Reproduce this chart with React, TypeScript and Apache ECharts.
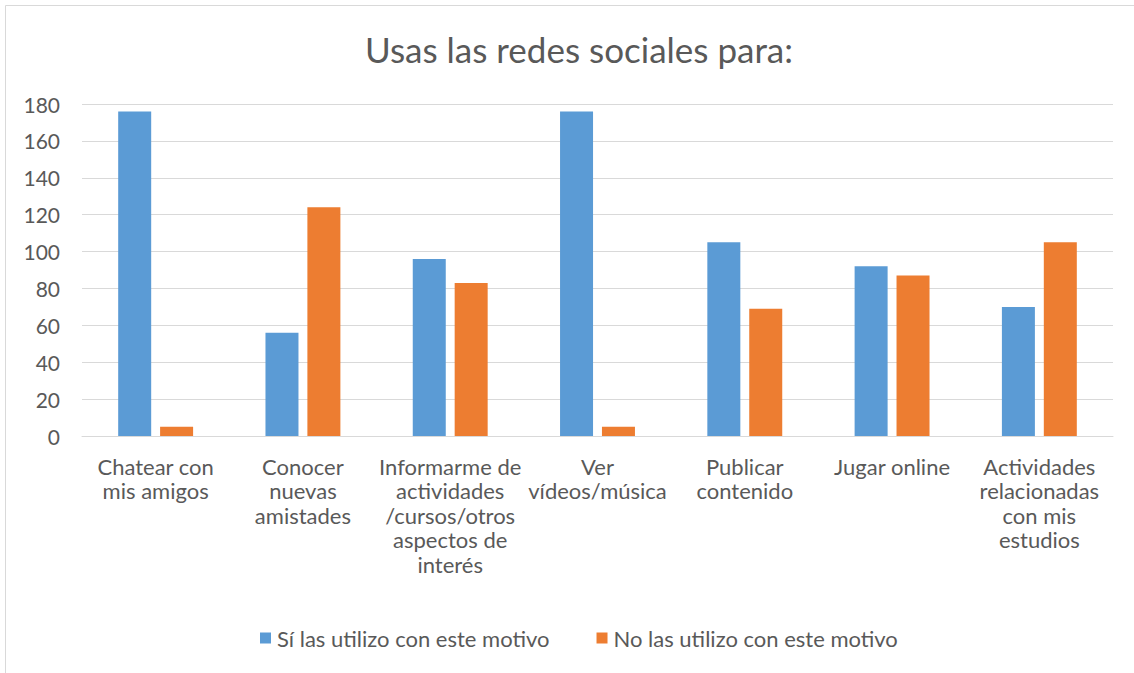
import React, { useEffect, useRef } from "react";
import * as echarts from "echarts";

const titleText = "Usas las redes sociales para:";
const categories = [
  "Chatear con\nmis amigos",
  "Conocer\nnuevas\namistades",
  "Informarme de\nactividades\n/cursos/otros\naspectos de\ninterés",
  "Ver\nvídeos/música",
  "Publicar\ncontenido",
  "Jugar online",
  "Actividades\nrelacionadas\ncon mis\nestudios",
];
const seriesSiName = "Sí las utilizo con este motivo";
const seriesNoName = "No las utilizo con este motivo";
const siValues = [176, 56, 96, 176, 105, 92, 70];
const noValues = [5, 124, 83, 5, 69, 87, 105];
const yTicks = { min: 0, max: 180, interval: 20 };

const FONT = "Lato, 'Noto Sans', sans-serif";
const TEXT = "#595959";

export default function App() {
  const ref = useRef<HTMLDivElement>(null);
  useEffect(() => {
    document.body.style.margin = "0";
    const chart = echarts.init(ref.current!, null, { renderer: "svg" });
    chart.setOption({
      animation: false,
      backgroundColor: "#ffffff",
      textStyle: { fontFamily: FONT, color: TEXT },
      graphic: [
        {
          type: "rect",
          silent: true,
          shape: { x: 5.5, y: 5.5, width: 1200, height: 800 },
          style: { fill: "none", stroke: "#D9D9D9", lineWidth: 1 },
        },
      ],
      title: {
        text: titleText,
        left: 574,
        textAlign: "center",
        top: 26,
        textStyle: { fontFamily: FONT, fontSize: 35, fontWeight: "normal", color: TEXT },
      },
      legend: {
        data: [seriesSiName, seriesNoName],
        left: 255,
        top: 622,
        itemWidth: 11,
        itemHeight: 11,
        itemGap: 47,
        icon: "rect",
        textStyle: { fontFamily: FONT, fontSize: 22, color: TEXT, padding: [0, 0, 0, 1] },
      },
      grid: { left: 82, right: 21, top: 104, bottom: 237, containLabel: false },
      xAxis: {
        type: "category",
        data: categories,
        axisLine: { show: true, lineStyle: { color: "#D9D9D9", width: 1 } },
        axisTick: { show: false },
        axisLabel: {
          interval: 0,
          margin: 18,
          fontFamily: FONT,
          fontSize: 22,
          lineHeight: 24.5,
          color: TEXT,
          align: "center",
        },
      },
      yAxis: {
        type: "value",
        min: yTicks.min,
        max: yTicks.max,
        interval: yTicks.interval,
        axisLine: { show: false },
        axisTick: { show: false },
        splitLine: { lineStyle: { color: "#D9D9D9", width: 1 } },
        axisLabel: { margin: 22, fontFamily: FONT, fontSize: 21, color: TEXT },
      },
      series: [
        {
          name: seriesSiName,
          type: "bar",
          data: siValues,
          barWidth: 33,
          barGap: "27%",
          itemStyle: { color: "#5B9BD5" },
        },
        {
          name: seriesNoName,
          type: "bar",
          data: noValues,
          barWidth: 33,
          barGap: "27%",
          itemStyle: { color: "#ED7D31" },
        },
      ],
    });
    return () => chart.dispose();
  }, []);
  return (
    <div
      ref={ref}
      style={{ position: "fixed", left: 0, top: 0, width: 1134, height: 673 }}
    />
  );
}
